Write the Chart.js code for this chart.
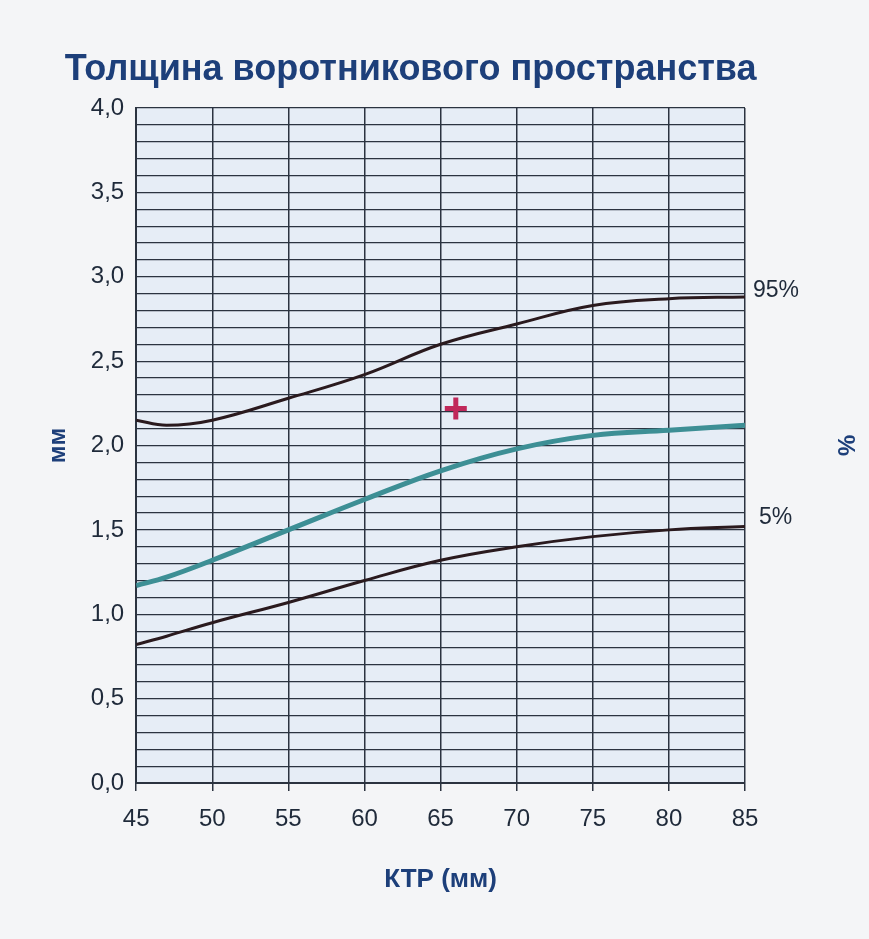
<!DOCTYPE html>
<html><head><meta charset="utf-8">
<script src="https://cdn.jsdelivr.net/npm/chart.js@4/dist/chart.umd.min.js"></script>
<style>body{margin:0;background:#f4f5f7}#wrap{width:869px;height:939px}</style>
</head><body><div id="wrap"><canvas id="c"></canvas></div>
<script>
const ktr = [45, 47, 50, 55, 60, 65, 70, 75, 80, 85];
const p95 = [2.15, 2.12, 2.15, 2.28, 2.42, 2.6, 2.72, 2.83, 2.87, 2.88];
const p50 = [1.17, 1.22, 1.32, 1.5, 1.68, 1.85, 1.98, 2.06, 2.09, 2.12];
const p5 = [0.82, 0.87, 0.95, 1.07, 1.2, 1.32, 1.4, 1.46, 1.5, 1.52];
const marker = [{x: 66, y: 2.22}];
const xTicks = [45, 50, 55, 60, 65, 70, 75, 80, 85];

const toPts = arr => arr.map((v, i) => ({x: ktr[i], y: v}));
const ink = '#1f2a3a', navy = '#1d3f7a';
const fam = '"Liberation Sans", Arial';

const extras = {
  id: 'extras',
  beforeDraw(chart) {
    const {ctx, chartArea: a} = chart;
    ctx.save();
    ctx.fillStyle = '#e6edf6';
    ctx.fillRect(a.left, a.top, a.right - a.left, a.bottom - a.top);
    ctx.restore();
  },
  afterDraw(chart) {
    const {ctx, chartArea: a, scales: {x, y}} = chart;
    ctx.save();
    ctx.fillStyle = navy;
    ctx.font = 'bold 36px ' + fam;
    ctx.textAlign = 'center';
    ctx.fillText('Толщина воротникового пространства', (a.left + a.right) / 2 - 30, a.top - 28);
    ctx.fillStyle = ink;
    ctx.textAlign = 'left';
    ctx.font = '23px ' + fam;
    ctx.textBaseline = 'middle';
    ctx.fillText('95%', a.right + 8, y.getPixelForValue(2.92));
    ctx.fillText('5%', a.right + 14, y.getPixelForValue(1.57));
    ctx.fillStyle = navy;
    ctx.font = 'bold 24px ' + fam;
    ctx.translate(a.right + 100, y.getPixelForValue(2.0));
    ctx.rotate(Math.PI / 2);
    ctx.textAlign = 'center';
    ctx.fillText('%', 0, 0);
    ctx.restore();
  }
};

new Chart(document.getElementById('c'), {
  type: 'line',
  data: {
    datasets: [
      {data: toPts(p95), borderColor: '#2a1a1e', borderWidth: 3, pointRadius: 0, tension: 0.4},
      {data: toPts(p50), borderColor: '#3d8f95', borderWidth: 5, pointRadius: 0, tension: 0.4},
      {data: toPts(p5), borderColor: '#2a1a1e', borderWidth: 3, pointRadius: 0, tension: 0.4},
      {type: 'scatter', data: marker, pointStyle: 'cross', pointRadius: 11, borderWidth: 5, borderColor: '#c0285a'}
    ]
  },
  options: {
    responsive: true,
    maintainAspectRatio: false,
    animation: false,
    layout: {padding: {left: 40, right: 124, top: 108, bottom: 40}},
    plugins: {legend: {display: false}, tooltip: {enabled: false}},
    scales: {
      x: {type: 'linear', min: 45, max: 85,
        afterBuildTicks: ax => { ax.ticks = xTicks.map(v => ({value: v})); },
        grid: {color: '#2b3340', lineWidth: 1.5},
        border: {color: '#2b3340', width: 2},
        ticks: {color: ink, font: {size: 24, family: fam}, padding: 14},
        title: {display: true, text: 'КТР (мм)', color: navy, font: {size: 26, weight: 'bold', family: fam}, padding: {top: 16}}
      },
      y: {min: 0, max: 4,
        ticks: {stepSize: 0.1, autoSkip: false, color: ink, font: {size: 24, family: fam}, padding: 12,
          callback: v => (Math.round(v * 10) % 5 === 0) ? v.toFixed(1).replace('.', ',') : ''},
        grid: {color: '#2b3340', lineWidth: 1.2, tickLength: 0},
        border: {color: '#2b3340', width: 2},
        title: {display: true, text: 'мм', color: navy, font: {size: 24, weight: 'bold', family: fam}, padding: {bottom: 6}}
      }
    }
  },
  plugins: [extras]
});
</script></body></html>
